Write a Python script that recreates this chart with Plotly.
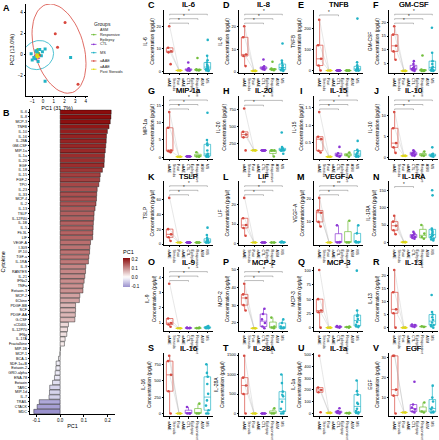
import numpy as np
import plotly.graph_objects as go

W, H = 439, 440
FONT = "Liberation Sans, Arial, sans-serif"

# ---------------- Panel A : PCA scores ----------------
PCA_GROUPS = ["ASM Responsive Epilepsy", "CTL", "MS", "aAAE", "aAAE Post Steroids"]
PCA_LEGEND = ["ASM<br>Responsive<br>Epilepsy", "CTL", "MS", "aAAE", "aAAE<br>Post Steroids"]
ASM_PC1 = [-0.6, -0.4, -0.7, -0.5, -0.3, -0.55]
ASM_PC2 = [0.3, 0.1, -0.2, 0.45, -0.1, 0.2]
CTL_PC1 = [-0.7, -0.6, -0.5, -0.45, -0.65, -0.55, -0.4, -0.75, -0.5]
CTL_PC2 = [-0.3, -0.1, -0.4, -0.2, -0.5, 0.0, -0.35, -0.15, -0.25]
MS_PC1 = [0.2, 2.58, 0.2, -0.55, -0.85, -0.3, -1.0, -0.15, -0.65, -0.45, -1.1, -0.05, -0.75]
MS_PC2 = [0.5, -0.3, -2.6, 0.2, -0.3, 0.45, -0.55, -0.15, 0.35, -0.7, 0.05, 0.25, -0.4]
AAAE_PC1 = [2.06, 1.15, 1.36, 3.27, -0.35]
AAAE_PC2 = [3.05, 1.97, 0.68, -2.87, -0.1]
POST_PC1 = [-0.6, -0.5, -0.55, -0.45]
POST_PC2 = [-0.15, -0.3, -0.05, -0.2]
PC1_TICKS = [-1, 0, 1, 2, 3, 4]
PC2_TICKS = [-2, 0, 2, 4]

# ---------------- Panel B : PC1 loadings ----------------
CYTOKINES = ["IL-6", "IL-8", "MCP-3", "TNFB", "IL-10", "IL-16", "IL-28A", "GM-CSF", "MIP-1a", "IL-1a",
             "IL-20", "EGF", "IL-18", "IL-15", "FGF-2", "TPO", "IL-23", "IL-33", "MCP-4", "IL-2",
             "IL-13", "TSLP", "IL-12P40", "IL-1B", "IL-5", "Flt-3L", "LIF", "VEGF-A", "I-309", "IP-10",
             "TGF-a", "IL-1RA", "IL-9", "RANTES", "IL-21", "IFNa2", "TNFa", "Eotaxin-3", "MCP-2", "6Ckine",
             "PDGF-BB", "SCF", "PDGF-AA", "G-CSF", "sCD40L", "IL-12P70", "IFNg", "IL-17A", "Fractalkine", "MIP-1B",
             "MCP-1", "BCA-1", "SDF-1a+B", "Eotaxin-2", "GRO-alpha", "ENA-78", "Eotaxin", "TARC", "MIP-1d", "IL-7",
             "TRAIL", "CTACK", "MDC"]
PC1_LOADINGS = [0.215, 0.214, 0.211, 0.206, 0.199, 0.195, 0.194, 0.192, 0.190, 0.187,
                0.186, 0.185, 0.178, 0.169, 0.167, 0.163, 0.156, 0.154, 0.153, 0.151,
                0.147, 0.143, 0.142, 0.140, 0.139, 0.138, 0.137, 0.128, 0.125, 0.124,
                0.121, 0.119, 0.108, 0.107, 0.104, 0.101, 0.097, 0.096, 0.083, 0.081,
                0.065, 0.065, 0.064, 0.062, 0.035, 0.031, 0.028, 0.021, 0.018, 0.001,
                -0.001, -0.007, -0.017, -0.018, -0.021, -0.024, -0.032, -0.044, -0.045, -0.047,
                -0.088, -0.097, -0.111]
LOADING_TICKS = [-0.1, 0.0, 0.1, 0.2]

# ---------------- Panels C-V : cytokine concentrations ----------------
G_KEYS = ["aAAE", "Post", "CTL", "ASM", "MS"]
G_TICKS = ["aAAE", "aAAE<br>Post<br>Steroids", "CTL", "ASM<br>Responsive<br>Epilepsy", "MS"]
G_COLORS = {"aAAE": "#D8473D", "Post": "#E2DA14", "CTL": "#8B35D4", "ASM": "#72BE3C", "MS": "#22B3C6"}

IL6 = {"aAAE": [20, 10.5, 9, 8.5, 3.3], "Post": [0.5, 0.5, 0.5],
       "CTL": [0.4, 0.6, 0.8, 1.0, 1.2, 0.5, 0.7, 1.5, 4.0], "ASM": [0.5, 0.6, 0.8, 1.0, 6.0],
       "MS": [0.3, 0.5, 1.0, 1.5, 2.0, 2.5, 3.0, 4.0, 5.0, 7.0, 14.0, 0.5, 1.0]}
IL6_TICKS = [0, 10, 20]
IL8 = {"aAAE": [20, 15.2, 7.7, 7, 2.6], "Post": [0.5, 0.5, 0.5],
       "CTL": [1, 1.5, 2, 2.5, 1.8, 1.2, 5.5], "ASM": [0.8, 1, 1.5, 1.2, 4.5],
       "MS": [0.5, 1, 1.5, 2, 3, 4, 5, 12.5, 2, 1, 0.8]}
IL8_TICKS = [0, 10, 20]
TNFB = {"aAAE": [242, 121, 56, 24, 0], "Post": [0, 0, 0], "CTL": [0, 0, 0, 0, 0, 0, 0, 0],
        "ASM": [0, 0, 0, 0, 0], "MS": [248, 40, 25, 15, 10, 5, 0, 0, 2, 8, 0]}
TNFB_TICKS = [0, 100, 200]
GMCSF = {"aAAE": [18.5, 15.5, 11.5, 9.5, 6.5], "Post": [2.5, 2.5, 2.5],
         "CTL": [2.5, 3, 3.5, 4, 5, 6, 2.8, 3.2], "ASM": [2.5, 2.5, 3, 8, 2.7],
         "MS": [2.5, 3, 4, 5, 6, 9, 18, 2.7, 3.5, 2.6]}
GMCSF_TICKS = [5, 10, 15, 20, 25]
MIP1A = {"aAAE": [13, 8.5, 2, 1.8, 1.5], "Post": [0.2, 0.2, 0.2],
         "CTL": [0.2, 0.25, 0.3, 0.2, 0.35, 0.3], "ASM": [0.2, 0.3, 1.5, 0.25],
         "MS": [12.8, 5, 4, 3.5, 2, 1, 0.5, 0.5, 0.3, 0.2, 0.2]}
MIP1A_TICKS = [0, 5, 10, 15]
IL20 = {"aAAE": [760, 420, 380, 340, 150], "Post": [150, 150, 150],
        "CTL": [150, 150, 150, 150, 150, 150, 150, 150], "ASM": [150, 150, 60, 150],
        "MS": [410, 170, 150, 150, 160, 200, 180, 150, 100, 150]}
IL20_TICKS = [0, 250, 500, 750]
IL15 = {"aAAE": [1.37, 0.67, 0.6, 0.27, 0.22], "Post": [0.1, 0.1, 0.1],
        "CTL": [0.1, 0.12, 0.15, 0.2, 0.38, 0.12], "ASM": [0.1, 0.15, 0.22],
        "MS": [0.55, 0.3, 0.25, 0.2, 0.15, 0.1, 0.1, 0.12]}
IL15_TICKS = [0.5, 1.0, 1.5]
IL10 = {"aAAE": [10.8, 7, 3.5, 2.5, 1.2], "Post": [0.5, 0.5, 0.5],
        "CTL": [0.5, 0.8, 1, 1.2, 1.5, 1.8, 0.6], "ASM": [0.5, 0.6, 1.5],
        "MS": [0.3, 0.5, 0.8, 1, 2.5, 0.4, 0.6]}
IL10_TICKS = [0, 5, 10]
TSLP = {"aAAE": [62, 20, 13, 9, 4], "Post": [2, 2, 2], "CTL": [2, 2, 2, 2, 2, 2, 2, 2],
        "ASM": [2, 2, 2, 2, 2], "MS": [22, 12, 8, 6, 5, 4, 3, 2, 2, 2, 2]}
TSLP_TICKS = [0, 20, 40, 60]
LIF = {"aAAE": [23.5, 13, 9.5, 8, 4], "Post": [0.5, 0.5, 0.5], "CTL": [0.5, 0.5, 0.5, 0.5, 0.5, 0.5],
       "ASM": [0.5, 0.5, 0.5, 0.5], "MS": [0.5, 0.8, 1, 0.5, 0.6]}
LIF_TICKS = [0, 10, 20]
VEGFA = {"aAAE": [20.5, 15, 14, 10, 8], "Post": [1, 1, 1], "CTL": [1, 1, 8.5, 1.2],
         "ASM": [1, 10.5, 1], "MS": [1, 1, 1.5, 5, 8.5, 1.2]}
VEGFA_TICKS = [10, 20]
IL1RA = {"aAAE": [77, 60, 48, 35, 23], "Post": [0, 0, 0], "CTL": [10, 12, 15, 18, 20, 25, 30],
         "ASM": [10, 15, 25, 50], "MS": [152, 137, 40, 35, 30, 25, 20, 18, 15, 10, 8, 5]}
IL1RA_TICKS = [0, 50, 100, 150]
IL9 = {"aAAE": [3.6, 1.3, 1.0, 0.9, 0.75], "Post": [0.65, 0.65, 0.65], "CTL": [0.65, 0.7, 0.68, 0.66],
       "ASM": [0.65, 0.66, 0.7], "MS": [0.65, 0.7, 0.75, 0.68, 0.66, 0.8]}
IL9_TICKS = [1, 2, 3, 4]
MCP2 = {"aAAE": [42, 36, 34, 30, 27], "Post": [17, 17, 17], "CTL": [17, 18, 20, 25, 28, 22],
        "ASM": [17, 18, 23, 17.5], "MS": [17, 18, 20, 22, 17, 17.5]}
MCP2_TICKS = [20, 30, 40, 50]
MCP3 = {"aAAE": [101, 50, 30, 27, 0], "Post": [0, 0, 0], "CTL": [0, 1, 2, 3],
        "ASM": [0, 1, 2], "MS": [100, 30, 22, 20, 15, 10, 5, 3, 2, 1]}
MCP3_TICKS = [0, 25, 50, 75, 100]
IL13 = {"aAAE": [22, 13.5, 7, 5.5, 0], "Post": [0, 0, 0], "CTL": [0.3, 0.5, 1, 1.2],
        "ASM": [0.3, 0.5], "MS": [12.5, 6, 5, 4, 3, 2, 1, 1, 0, 0.5]}
IL13_TICKS = [0, 5, 10, 15, 20]
IL16 = {"aAAE": [880, 800, 590, 340, 0], "Post": [0, 0, 0], "CTL": [0, 0, 100, 0],
        "ASM": [0, 150, 0], "MS": [750, 620, 560, 450, 300, 200, 120, 50, 0, 0]}
IL16_TICKS = [0, 250, 500, 750]
IL28A = {"aAAE": [1480, 920, 720, 500, 0], "Post": [0, 0, 0], "CTL": [0, 0, 0, 0, 0],
         "ASM": [0, 130, 0], "MS": [1000, 780, 560, 480, 440, 300, 120, 50, 0, 0]}
IL28A_TICKS = [0, 500, 1000, 1500]
IL1A = {"aAAE": [490, 220, 200, 180, 10], "Post": [5, 5, 5], "CTL": [0, 5, 10, 15, 20, 45],
        "ASM": [0, 5, 3], "MS": [280, 190, 160, 90, 80, 40, 20, 10, 5, 0]}
IL1A_TICKS = [0, 100, 200, 300, 400, 500]
EGF = {"aAAE": [31, 31, 14, 11, 2], "Post": [2.5, 2.5, 2.5], "CTL": [2.5, 3, 4, 5, 6.5, 18],
       "ASM": [2.5, 3, 7.5], "MS": [16, 10, 8, 5, 4, 3, 2.5, 2.5]}
EGF_TICKS = [10, 20, 30]

SIG3 = [(0, 2, "*"), (0, 3, "*"), (0, 4, "*")]
PANELS = [
    ("C", "IL-6", IL6, IL6_TICKS, SIG3),
    ("D", "IL-8", IL8, IL8_TICKS, SIG3),
    ("E", "TNFB", TNFB, TNFB_TICKS, [(0, 2, "*")]),
    ("F", "GM-CSF", GMCSF, GMCSF_TICKS, SIG3),
    ("G", "MIP-1a", MIP1A, MIP1A_TICKS, SIG3),
    ("H", "IL-20", IL20, IL20_TICKS, [(0, 2, "*"), (0, 4, "*")]),
    ("I", "IL-15", IL15, IL15_TICKS, SIG3),
    ("J", "IL-10", IL10, IL10_TICKS, SIG3),
    ("K", "TSLP", TSLP, TSLP_TICKS, SIG3),
    ("L", "LIF", LIF, LIF_TICKS, [(0, 2, "*"), (0, 3, "*"), (0, 4, "**")]),
    ("M", "VEGF-A", VEGFA, VEGFA_TICKS, [(0, 2, "*"), (0, 3, "*"), (0, 4, "**")]),
    ("N", "IL-1RA", IL1RA, IL1RA_TICKS, [(0, 2, "*")]),
    ("O", "IL-9", IL9, IL9_TICKS, SIG3),
    ("P", "MCP-2", MCP2, MCP2_TICKS, SIG3),
    ("Q", "MCP-3", MCP3, MCP3_TICKS, []),
    ("R", "IL-13", IL13, IL13_TICKS, []),
    ("S", "IL-16", IL16, IL16_TICKS, []),
    ("T", "IL-28A", IL28A, IL28A_TICKS, []),
    ("U", "IL-1a", IL1A, IL1A_TICKS, []),
    ("V", "EGF", EGF, EGF_TICKS, []),
]

# ---------------- helpers ----------------
def px_x(a, b):
    return [max(0.0, a / W), min(1.0, b / W)]


def px_y(top, bottom):
    return [max(0.0, 1 - bottom / H), min(1.0, 1 - top / H)]


def trob_ellipse(xs, ys, level=0.95, nu=5, segments=61):
    """ggplot2 stat_ellipse(type='t'): MASS::cov.trob + F-quantile radius."""
    X0 = np.column_stack([xs, ys]).astype(float)
    n, p = X0.shape
    wt = np.ones(n)
    loc = X0.mean(axis=0)
    w = np.sqrt(wt)
    X = X0 - loc
    for _ in range(25):
        w0 = w
        X = X0 - loc
        _, d, vt = np.linalg.svd(np.sqrt(w / w.sum())[:, None] * X, full_matrices=False)
        wX = X @ vt.T @ np.diag(1 / d)
        Q = (wX ** 2).sum(axis=1)
        w = (wt * (nu + p)) / (nu + Q)
        loc = (w[:, None] * X0).sum(axis=0) / w.sum()
        if np.all(np.abs(w - w0) < 0.01):
            break
    sw = np.sqrt(w)[:, None] * X
    cov = sw.T @ sw / wt.sum()
    dfd = n - 1
    fq = dfd / 2 * ((1 - level) ** (-2 / dfd) - 1)   # qf(level, 2, dfd)
    radius = np.sqrt(2 * fq)
    return _ellipse_path(loc, cov, radius, segments)


def norm_ellipse(xs, ys, radius=1.9, segments=61):
    X0 = np.column_stack([xs, ys]).astype(float)
    return _ellipse_path(X0.mean(axis=0), np.cov(X0.T), radius, segments)


def _ellipse_path(loc, cov, radius, segments):
    R = np.linalg.cholesky(cov).T
    ang = np.linspace(0, 2 * np.pi, segments)
    uc = np.column_stack([np.cos(ang), np.sin(ang)])
    e = loc + radius * uc @ R
    return e[:, 0], e[:, 1]


def hex_rgb(h):
    h = h.lstrip("#")
    return np.array([int(h[i:i + 2], 16) for i in (0, 2, 4)], dtype=float)


fig = go.Figure()
annotations = []
shapes = []
layout_axes = {}
TXT = "#1a1a1a"

AX_COMMON = dict(showline=True, linecolor="black", linewidth=0.6, ticks="outside", ticklen=1.5,
                 tickwidth=0.5, tickcolor="black", showgrid=False, zeroline=False)

# ---------------- Panel A ----------------
pca_sets = [
    ("ASM Responsive Epilepsy", ASM_PC1, ASM_PC2, G_COLORS["ASM"], "circle"),
    ("CTL", CTL_PC1, CTL_PC2, G_COLORS["CTL"], "triangle-up"),
    ("MS", MS_PC1, MS_PC2, G_COLORS["MS"], "square"),
    ("aAAE", AAAE_PC1, AAAE_PC2, G_COLORS["aAAE"], "circle"),
    ("aAAE Post Steroids", POST_PC1, POST_PC2, G_COLORS["Post"], "cross"),
]
for name, xs, ys, col, sym in pca_sets:
    if name == "MS":
        ex, ey = trob_ellipse(xs, ys)
    elif name == "aAAE":
        ex, ey = norm_ellipse(xs, ys)
    else:
        continue
    fig.add_trace(go.Scatter(x=ex, y=ey, mode="lines", line=dict(color=col, width=0.8),
                             showlegend=False, hoverinfo="skip", xaxis="x", yaxis="y"))
for name, xs, ys, col, sym in pca_sets:
    fig.add_trace(go.Scatter(x=xs, y=ys, mode="markers", showlegend=False,
                             marker=dict(color=col, size=3, symbol=sym), xaxis="x", yaxis="y"))

# manual legend ("Groups")
LEG_X, LEG_Y = 91, [34.5, 44.5, 53, 61.5, 70]
annotations.append(dict(text="Groups", x=(LEG_X + 1) / W, y=1 - 23.5 / H, xref="paper", yref="paper",
                        xanchor="left", yanchor="middle", showarrow=False, font=dict(size=5, color=TXT)))
for (name, xs, ys, col, sym), ly in zip(pca_sets, LEG_Y):
    shapes.append(dict(type="line", xref="paper", yref="paper", x0=LEG_X / W, x1=(LEG_X + 5.5) / W,
                       y0=1 - ly / H, y1=1 - ly / H, line=dict(color=col, width=0.8)))
    shapes.append(dict(type="circle", xref="paper", yref="paper", x0=(LEG_X + 1.9) / W, x1=(LEG_X + 3.6) / W,
                       y0=1 - (ly + 0.85) / H, y1=1 - (ly - 0.85) / H, fillcolor=col, line=dict(width=0)))
    annotations.append(dict(text=PCA_LEGEND[PCA_GROUPS.index(name)], x=(LEG_X + 6.5) / W, y=1 - ly / H,
                            xref="paper", yref="paper", xanchor="left", yanchor="middle", align="left",
                            showarrow=False, font=dict(size=3.8, color=TXT)))

layout_axes["xaxis"] = dict(AX_COMMON, domain=px_x(26, 88), range=[-1.58, 4.2], tickvals=PC1_TICKS,
                            tickfont=dict(size=4.5), anchor="y",
                            title=dict(text="PC1 (31.7%)", font=dict(size=5.5), standoff=2))
layout_axes["yaxis"] = dict(AX_COMMON, domain=px_y(3, 97), range=[-3.97, 4.84], tickvals=PC2_TICKS,
                            tickfont=dict(size=4.5), anchor="x",
                            title=dict(text="PC2 (13.0%)", font=dict(size=5.5), standoff=2))
annotations.append(dict(text="<b>A</b>", x=1 / W, y=1 - 0 / H, xref="paper", yref="paper",
                        xanchor="left", yanchor="top", showarrow=False, font=dict(size=9, color="black")))

# ---------------- Panel B ----------------
LOW, MID, HIGH = hex_rgb("#3C2AA0"), hex_rgb("#FFFFFF"), hex_rgb("#8B0C0C")
cmin, cmax = min(PC1_LOADINGS), max(PC1_LOADINGS)
maxabs = max(abs(cmin), abs(cmax))
cscale = []
for f in np.linspace(0, 1, 21):
    v = cmin + f * (cmax - cmin)
    t = 0.5 + v / (2 * maxabs)
    if t < 0.5:
        c = LOW + (MID - LOW) * (t / 0.5)
    else:
        c = MID + (HIGH - MID) * ((t - 0.5) / 0.5)
    cscale.append([float(f), "rgb(%d,%d,%d)" % tuple(np.round(c))])

fig.add_trace(go.Bar(x=PC1_LOADINGS, y=CYTOKINES, orientation="h", xaxis="x2", yaxis="y2",
                     showlegend=False,
                     marker=dict(color=PC1_LOADINGS, colorscale=cscale, cmin=cmin, cmax=cmax,
                                 line=dict(color="black", width=0.4),
                                 colorbar=dict(title=dict(text="PC1", font=dict(size=5.5), side="top"),
                                               x=123 / W, xanchor="left", y=1 - 273 / H, yanchor="middle",
                                               len=40, lenmode="pixels", thickness=7,
                                               tickvals=LOADING_TICKS, ticktext=["%.1f" % v for v in LOADING_TICKS],
                                               tickfont=dict(size=4.5), outlinewidth=0, ticks="",
                                               xpad=0, ypad=0))))
ncat = len(CYTOKINES)
layout_axes["xaxis2"] = dict(AX_COMMON, domain=px_x(30, 115), range=[-0.127, 0.231],
                             tickvals=LOADING_TICKS, ticktext=["%.1f" % v for v in LOADING_TICKS],
                             tickfont=dict(size=4.5), anchor="y2",
                             title=dict(text="PC1", font=dict(size=5.5), standoff=2))
layout_axes["yaxis2"] = dict(AX_COMMON, domain=px_y(111, 424), type="category",
                             categoryorder="array", categoryarray=CYTOKINES,
                             range=[ncat - 1 + 0.6, -0.6], tickfont=dict(size=3.7), anchor="x2",
                             title=dict(text="Cytokine", font=dict(size=5.5), standoff=2))
annotations.append(dict(text="<b>B</b>", x=1 / W, y=1 - 108 / H, xref="paper", yref="paper",
                        xanchor="left", yanchor="top", showarrow=False, font=dict(size=9, color="black")))
fig.update_layout(bargap=0.1)

# ---------------- Panels C-V ----------------
COL0, COL_STEP, PW = 164, 75, 49
ROW0, ROW_STEP, PH = 9, 88, 65

for i, (letter, name, data, ticks, sig) in enumerate(PANELS):
    col, row = i % 4, i // 4
    k = i + 3
    xa, ya = "x%d" % k, "y%d" % k
    x0 = COL0 + COL_STEP * col
    x1 = x0 + PW
    y0 = ROW0 + ROW_STEP * row
    y1 = y0 + PH
    allv = np.concatenate([np.asarray(data[g], dtype=float) for g in G_KEYS])
    lo, hi = allv.min(), allv.max()
    span = hi - lo

    # paired aAAE -> post-steroid lines
    npair = min(len(data["aAAE"]), len(data["Post"]))
    lx, ly = [], []
    for j in range(npair):
        lx += [0, 1, None]
        ly += [data["aAAE"][j], data["Post"][j], None]
    fig.add_trace(go.Scatter(x=lx, y=ly, mode="lines", line=dict(color="rgba(160,160,160,0.5)", width=0.5),
                             showlegend=False, hoverinfo="skip", xaxis=xa, yaxis=ya))
    for gi, g in enumerate(G_KEYS):
        c = G_COLORS[g]
        fig.add_trace(go.Box(x=[gi] * len(data[g]), y=data[g], boxpoints="all", jitter=0.55, pointpos=0,
                             marker=dict(color=c, size=2.6), line=dict(color=c, width=0.7),
                             fillcolor="rgba(255,255,255,0)", width=0.7, whiskerwidth=0,
                             quartilemethod="inclusive", showlegend=False, xaxis=xa, yaxis=ya))
    # significance brackets
    levels = [hi + span * (0.07 + 0.1 * s) for s in range(len(sig))]
    tip = span * 0.025
    bx, by = [], []
    for (a, b, lab), lev in zip(sig, levels):
        bx += [a, a, b, b, None]
        by += [lev - tip, lev, lev, lev - tip, None]
        annotations.append(dict(text=lab, x=(a + b) / 2, y=lev, xref=xa, yref=ya, yanchor="bottom",
                                yshift=-2, showarrow=False, font=dict(size=4.5, color=TXT)))
    if sig:
        fig.add_trace(go.Scatter(x=bx, y=by, mode="lines", line=dict(color="#555555", width=0.4),
                                 showlegend=False, hoverinfo="skip", xaxis=xa, yaxis=ya))
        top = levels[-1] + span * 0.1
    else:
        top = hi + span * 0.05
    bottom = lo - span * 0.05
    tv = [t for t in ticks if bottom <= t <= top]
    if all(float(t).is_integer() for t in tv):
        tt = [str(int(t)) for t in tv]
    else:
        tt = ["%.1f" % t for t in tv]
    layout_axes["xaxis%d" % k] = dict(AX_COMMON, domain=px_x(x0, x1), range=[-0.6, 4.6],
                                      tickvals=list(range(len(G_KEYS))), ticktext=G_TICKS,
                                      tickfont=dict(size=3.6), anchor=ya)
    layout_axes["yaxis%d" % k] = dict(AX_COMMON, domain=px_y(y0, y1), range=[bottom, top],
                                      tickvals=tv, ticktext=tt, tickfont=dict(size=4), anchor=xa,
                                      title=dict(text=name + "<br>Concentration (pg/µl)",
                                                 font=dict(size=5), standoff=1.5))
    annotations.append(dict(text=name, x=(x0 + x1) / 2 / W, y=1 - (y0 - 5) / H, xref="paper",
                            yref="paper", xanchor="center", yanchor="middle", showarrow=False,
                            font=dict(size=7.5, color="#111111", shadow="0px 0px 0.4px #000000")))
    annotations.append(dict(text="<b>%s</b>" % letter, x=(x0 - 13) / W, y=1 - (y0 - 5) / H,
                            xref="paper", yref="paper", xanchor="center", yanchor="middle",
                            showarrow=False, font=dict(size=9, color="black")))

fig.update_layout(
    width=W, height=H, margin=dict(l=0, r=0, t=0, b=0),
    paper_bgcolor="white", plot_bgcolor="white",
    font=dict(family=FONT, color="black"),
    boxmode="overlay", annotations=annotations, shapes=shapes, showlegend=False,
    **layout_axes,
)

fig.write_html("out.html", config={"displayModeBar": False},
               post_script="document.body.style.margin='0';document.body.style.overflow='hidden';")
